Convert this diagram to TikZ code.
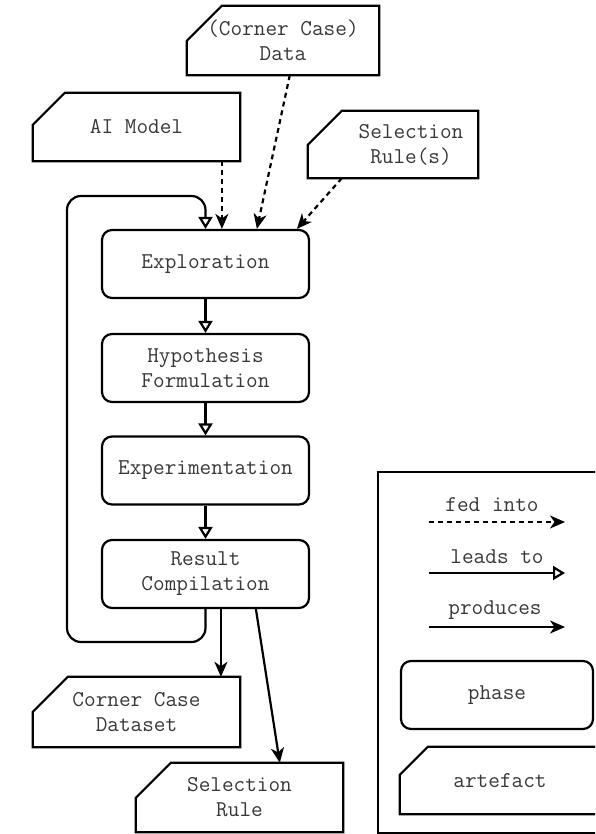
\documentclass[tikz,border=0pt]{standalone}
\usetikzlibrary{arrows.meta}

\begin{document}
\begin{tikzpicture}[x=1pt,y=-1pt,
  txt/.style={font=\ttfamily\fontsize{22.6}{25}\selectfont, text=black!78, align=center},
  phasebox/.style={txt, draw, line width=2.2pt, rounded corners=10pt,
    minimum width=207pt, minimum height=68pt, inner sep=0pt},
  artbox/.style={txt, rectangle, draw=none, inner sep=0pt},
  outline/.style={line width=2.2pt, line join=miter},
  fed/.style={line width=2.2pt, dash pattern=on 5pt off 4pt,
    -{Stealth[length=15pt,width=13pt,inset=4.5pt]}},
  leads/.style={line width=2.2pt, -{Triangle[open,length=12pt,width=14pt]}},
  prod/.style={line width=2.2pt, -{Stealth[length=15pt,width=13pt,inset=4.5pt]}}]

\useasboundingbox (0,0) rectangle (595,834);
\clip (0,0) rectangle (595,834);

% inputs
\node[artbox, minimum width=192pt, minimum height=69pt] (data) at (283,40.5) {(Corner Case)\\Data};
\node[artbox, minimum width=207pt, minimum height=68pt] (ai) at (136.5,127) {AI Model};
\node[artbox, minimum width=170pt, minimum height=67pt] (rules) at (393,144.5) {};
\node[txt] (rulestext) at (411,144.5) {Selection\\Rule(s)};

% phases
\node[phasebox] (expl)  at (205.5,264)   {Exploration};
\node[phasebox] (hyp)   at (205.5,368)   {Hypothesis\\Formulation};
\node[phasebox] (exper) at (205.5,470.5) {Experimentation};
\node[phasebox] (res)   at (205.5,574)   {Result\\Compilation};

% outputs
\node[artbox, minimum width=207pt, minimum height=70pt] (ccd)  at (136.5,712)   {Corner Case\\Dataset};
\node[artbox, minimum width=207pt, minimum height=69pt] (rule) at (239.5,797.5) {Selection\\Rule};

% legend
\node[draw, line width=2.2pt, minimum width=234pt, minimum height=361pt, inner sep=0pt] (legend) at (495,652.5) {};
\node[txt] (lfed)  at (492,505) {fed into};
\node[txt] (llead) at (497,557) {leads to};
\node[txt] (lprod) at (495,610) {produces};
\coordinate (fedA)  at (429,522); \coordinate (fedB)  at (565,522);
\coordinate (leadA) at (429,573); \coordinate (leadB) at (565,573);
\coordinate (prodA) at (429,627); \coordinate (prodB) at (565,627);
\node[phasebox, minimum width=192pt] (lphase) at (497,695) {phase};
\node[artbox, minimum width=200pt, minimum height=67pt] (lart) at (500,780.5) {artefact};

% artefact outlines with a chamfered top-left corner
\foreach \n/\c in {data/35,ai/32,rules/34,ccd/35,rule/35,lart/28}
  \draw[outline] (\n.south west) -- (\n.south east) -- (\n.north east)
    -- ([xshift=\c pt]\n.north west) -- ([yshift=-\c pt]\n.north west) -- cycle;

% inputs fed into exploration
\coordinate (eAI) at ([xshift=121pt]expl.north west);
\coordinate (eD)  at ([xshift=156pt]expl.north west);
\coordinate (eR)  at ([xshift=196pt]expl.north west);
\draw[fed] (ai.south -| eAI) -- (eAI);
\draw[fed] ([xshift=103pt]data.south west) -- (eD);
\draw[fed] ([xshift=34pt]rules.south west) -- (eR);

% phase sequence
\draw[leads] (expl) -- (hyp);
\draw[leads] (hyp) -- (exper);
\draw[leads] (exper) -- (res);

% iteration loop back to exploration
\coordinate (loopA) at (res.south |- 0,642);
\coordinate (loopB) at (67,642);
\coordinate (loopC) at (67,196);
\coordinate (loopD) at (expl.north |- 0,196);
\draw[leads, rounded corners=14pt] (res.south) -- (loopA) -- (loopB) -- (loopC) -- (loopD) -- (expl.north);

% results produced
\draw[prod] ([xshift=120pt]res.south west) -- ([xshift=120pt]res.south west |- ccd.north);
\draw[prod] ([xshift=155pt]res.south west) -- ([xshift=144pt]rule.north west);

% legend connectors
\draw[fed] (fedA) -- (fedB);
\draw[leads] (leadA) -- (leadB);
\draw[prod] (prodA) -- (prodB);
\end{tikzpicture}
\end{document}
